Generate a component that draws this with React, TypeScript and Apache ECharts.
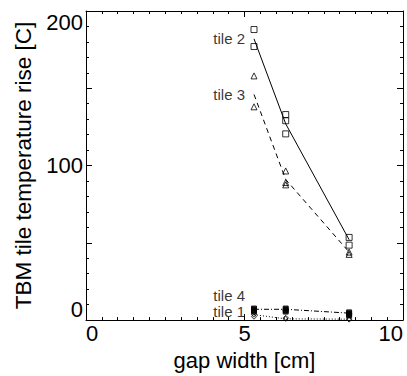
import React, { useEffect, useRef } from "react";
import * as echarts from "echarts";

// gap widths [cm]
const gapX = [5.3, 6.3, 8.3];

// individual measurements (x, y)
const tile2Points = [[5.3, 188], [5.3, 177], [6.3, 133], [6.3, 129], [6.3, 120.5], [8.3, 53.5], [8.3, 48.5]];
const tile3Points = [[5.3, 158], [5.3, 138], [6.3, 96.5], [6.3, 89], [6.3, 87.5], [8.3, 44], [8.3, 42.5]];
const tile4Points = [[5.3, 7.5], [5.3, 6.5], [5.3, 5.5], [6.3, 7.5], [6.3, 6.5], [6.3, 5.5], [8.3, 5], [8.3, 4], [8.3, 3]];
const tile1Points = [[5.3, 3.5], [5.3, 2.2], [6.3, 1.5], [6.3, 0.8], [8.3, 0.8], [8.3, 0.3]];

// mean curves
const tile2Line = [182, 127, 52];
const tile3Line = [146, 91, 44];
const tile4Line = [7, 7, 4.5];
const tile1Line = [3.5, 0.8, 0.6];

// curve labels
const labelNames = ["tile 2", "tile 3", "tile 4", "tile 1"];
const labelX = [5.3, 5.3, 5.3, 5.3];
const labelY = [182, 146, 16, 5.5];

const xTicks = { min: 0, max: 10, interval: 5 };
const yTicks = { min: 0, max: 200, interval: 50 };
const yLabelled = [0, 100, 200];

const FONT = "'Liberation Sans', Arial, Helvetica, sans-serif";

export default function App() {
  const ref = useRef<HTMLDivElement>(null);
  useEffect(() => {
    if (!ref.current) return;
    const chart = echarts.init(ref.current, undefined, { renderer: "svg" });
    const axisCommon = {
      axisLine: { show: true, onZero: false, lineStyle: { color: "#000", width: 1 } },
      axisTick: { show: true, inside: true, length: 6, lineStyle: { color: "#000" } },
      minorTick: { show: true, length: 3, lineStyle: { color: "#000" } },
      splitLine: { show: false },
    };
    const pair = (arr: number[]) => gapX.map((x, i) => [x, arr[i]]);
    const lineSeries = (data: number[], type: any) => ({
      type: "line",
      data: pair(data),
      showSymbol: false,
      symbol: "none",
      lineStyle: { color: "#000", width: 1, type },
      z: 2,
    });
    const scatter = (data: number[][], symbol: string, size: number, filled = false) => ({
      type: "scatter",
      data,
      symbol,
      symbolSize: size,
      itemStyle: { color: filled ? "#000" : "rgba(0,0,0,0)", borderColor: "#000", borderWidth: 1 },
      z: 3,
    });
    chart.setOption({
      animation: false,
      backgroundColor: "#fff",
      textStyle: { fontFamily: FONT },
      grid: { left: 86, top: 11, width: 317, height: 317, containLabel: false },
      xAxis: [
        {
          type: "value",
          position: "bottom",
          ...xTicks,
          ...axisCommon,
          minorTick: { ...axisCommon.minorTick, splitNumber: 10 },
          axisLabel: {
            fontSize: 22,
            color: "#000",
            fontFamily: FONT,
            margin: 2,
            alignMinLabel: "left",
            alignMaxLabel: "right",
          },
          name: "gap width [cm]",
          nameLocation: "middle",
          nameGap: 21,
          nameTextStyle: { fontSize: 22, color: "#000", fontFamily: FONT },
        },
        {
          type: "value",
          position: "top",
          ...xTicks,
          ...axisCommon,
          minorTick: { ...axisCommon.minorTick, splitNumber: 10 },
          axisLabel: { show: false },
        },
      ],
      yAxis: [
        {
          type: "value",
          position: "left",
          ...yTicks,
          ...axisCommon,
          minorTick: { ...axisCommon.minorTick, splitNumber: 5 },
          axisLabel: {
            fontSize: 22,
            color: "#000",
            fontFamily: FONT,
            margin: 3,
            formatter: (v: number) => (yLabelled.includes(v) ? String(v) : ""),
            verticalAlignMinLabel: "bottom",
            verticalAlignMaxLabel: "top",
          },
          name: "TBM tile temperature rise [C]",
          nameLocation: "middle",
          nameGap: 50,
          nameTextStyle: { fontSize: 22.5, color: "#000", fontFamily: FONT },
        },
        {
          type: "value",
          position: "right",
          ...yTicks,
          ...axisCommon,
          minorTick: { ...axisCommon.minorTick, splitNumber: 5 },
          axisLabel: { show: false },
        },
      ],
      series: [
        lineSeries(tile2Line, "solid"),
        lineSeries(tile3Line, [5, 4]),
        lineSeries(tile4Line, [5, 2, 1, 2]),
        lineSeries(tile1Line, [1, 2]),
        scatter(tile2Points, "rect", 6),
        scatter(tile3Points, "triangle", 6),
        scatter(tile4Points, "rect", 5, true),
        scatter(tile1Points, "diamond", 5),
        {
          type: "scatter",
          data: labelNames.map((n, i) => ({ name: n, value: [labelX[i], labelY[i]] })),
          symbolSize: 0,
          label: {
            show: true,
            position: "left",
            distance: 9,
            formatter: (p: any) => p.name,
            fontSize: 15,
            lineHeight: 14,
            color: "#000",
            fontFamily: FONT,
          },
          z: 4,
        },
      ],
    });
    return () => chart.dispose();
  }, []);
  return (
    <div
      ref={ref}
      style={{ position: "fixed", left: 0, top: 0, width: 407, height: 376, background: "#fff" }}
    />
  );
}
